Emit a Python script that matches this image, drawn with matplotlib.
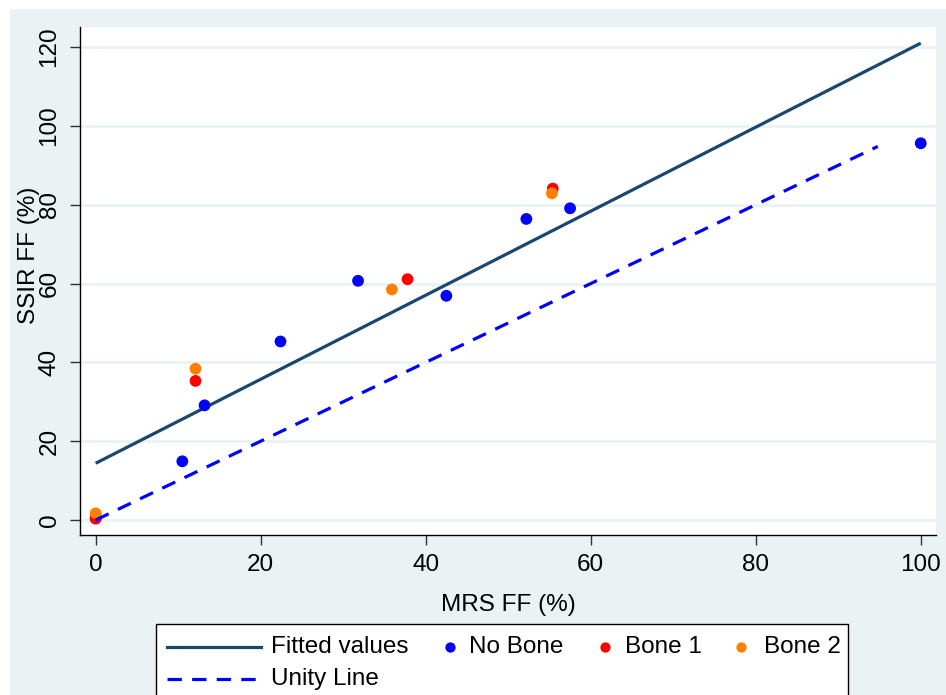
import matplotlib
matplotlib.use("Agg")
import matplotlib.pyplot as plt
from matplotlib.lines import Line2D
from matplotlib.patches import Rectangle
import numpy as np

# ---------------- data ----------------
nobone_x = [0.0, 10.5, 13.2, 22.4, 31.8, 42.5, 52.2, 57.5, 100.0]
nobone_y = [0.4, 14.9, 29.1, 45.3, 60.7, 56.9, 76.4, 79.1, 95.6]

bone1_x = [0.0, 12.1, 37.8, 55.4]
bone1_y = [0.4, 35.3, 61.1, 84.1]

bone2_x = [0.0, 12.1, 35.9, 55.3]
bone2_y = [1.7, 38.4, 58.5, 82.9]

fit_x = [0.0, 100.0]
fit_y = [14.4, 121.0]

unity_x = [0.0, 94.8]
unity_y = [0.0, 94.8]

x_ticks = [0, 20, 40, 60, 80, 100]
y_ticks = [0, 20, 40, 60, 80, 100, 120]

legend_labels = ["Fitted values", "No Bone", "Bone 1", "Bone 2", "Unity Line"]

# ---------------- style ----------------
W, H = 946, 695
DPI = 100
BG = "#eaf2f3"
FIT_C = "#1a476f"
BLUE = "#0000ff"
RED = "#ff0000"
ORANGE = "#ff8000"
FS = 17.5
plt.rcParams["font.family"] = ["Liberation Sans", "DejaVu Sans"]

fig = plt.figure(figsize=(W / DPI, H / DPI), dpi=DPI, facecolor=BG)

def fx(px):
    return px / W

def fy(py):
    return 1 - py / H

# white strips at top/left like the screenshot
fig.patches.append(Rectangle((0, fy(9)), 1, 1 - fy(9), transform=fig.transFigure,
                             facecolor="white", edgecolor="none", zorder=-5))
fig.patches.append(Rectangle((0, 0), fx(10), 1, transform=fig.transFigure,
                             facecolor="white", edgecolor="none", zorder=-5))

L, R, T, B = 80, 936, 27, 535
ax = fig.add_axes([fx(L), fy(B), fx(R) - fx(L), fy(T) - fy(B)])
ax.set_facecolor("white")

ax.set_xlim(-1.9, 101.85)
ax.set_ylim(-3.8, 125.1)

ax.set_yticks(y_ticks)
ax.set_xticks(x_ticks)
ax.grid(axis="y", color=BG, linewidth=2.0, zorder=0)
ax.set_axisbelow(True)

for s in ["top", "right"]:
    ax.spines[s].set_visible(False)
for s in ["left", "bottom"]:
    ax.spines[s].set_color("black")
    ax.spines[s].set_linewidth(1.0)

ax.tick_params(axis="both", direction="out", length=7, width=1.0, color="#333333",
               labelsize=FS, pad=7)
for lab in ax.get_yticklabels():
    lab.set_rotation(90)
    lab.set_va("center")

ax.set_xlabel("MRS FF (%)", fontsize=FS, labelpad=13)
ax.set_ylabel("SSIR FF (%)", fontsize=FS, labelpad=-1)
ax.yaxis.label.set_position((0, 0.55))

ax.plot(fit_x, fit_y, color=FIT_C, linewidth=2.3, zorder=2, solid_capstyle="butt")
ax.scatter(nobone_x, nobone_y, s=72, color=BLUE, edgecolors="none", zorder=3)
ax.scatter(bone1_x, bone1_y, s=72, color=RED, edgecolors="none", zorder=3)
ax.scatter(bone2_x, bone2_y, s=72, color=ORANGE, edgecolors="none", zorder=3)
ax.plot(unity_x, unity_y, color=BLUE, linewidth=2.3, linestyle=(0, (4.5, 3.2)), zorder=4)

# ---------------- legend (manual, cut off at bottom like the reference) ----------------
fig.patches.append(Rectangle((fx(156), fy(702)), fx(848) - fx(156), fy(624) - fy(702),
                             transform=fig.transFigure, facecolor="white",
                             edgecolor="black", linewidth=1.0, zorder=5))
r1, r2 = 647, 679
fig.add_artist(Line2D([fx(167), fx(261)], [fy(r1), fy(r1)], color=FIT_C, linewidth=2.3,
                      transform=fig.transFigure, zorder=6))
fig.add_artist(Line2D([fx(167), fx(261)], [fy(r2), fy(r2)], color=BLUE, linewidth=2.3,
                      linestyle=(0, (4.5, 3.2)), transform=fig.transFigure, zorder=6))
for cx, col in [(450, BLUE), (605, RED), (741, ORANGE)]:
    fig.add_artist(Line2D([fx(cx)], [fy(r1)], marker="o", markersize=7.4, color=col,
                          markeredgewidth=0, linestyle="none",
                          transform=fig.transFigure, zorder=6))
text_pos = [(271, r1), (469, r1), (625, r1), (764, r1), (271, r2)]
for (tx, ty), lab in zip(text_pos, legend_labels):
    fig.text(fx(tx), fy(ty), lab, fontsize=FS, va="center", ha="left", zorder=7)

fig.savefig("out.png", dpi=DPI, facecolor=fig.get_facecolor())
